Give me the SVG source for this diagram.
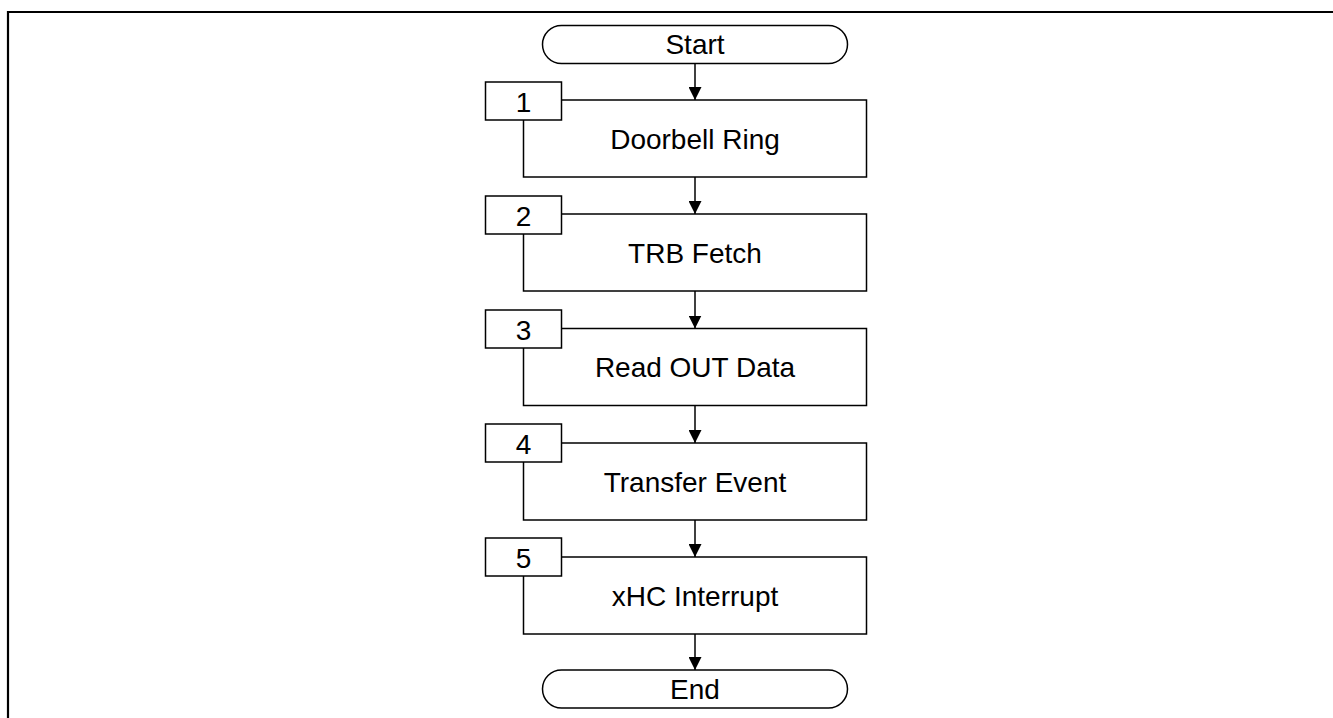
<svg xmlns="http://www.w3.org/2000/svg" width="1333" height="718" viewBox="0 0 1333 718">
<defs>
<marker id="arr" markerUnits="userSpaceOnUse" markerWidth="13" markerHeight="13" refX="13" refY="6.5" orient="auto" viewBox="0 0 13 13">
<path d="M0,0 L13,6.5 L0,13 Z" fill="#000"/>
</marker>
</defs>
<style>
.sh{fill:#fff;stroke:#000;stroke-width:1.5}
.t{font-family:"Liberation Sans",Arial,sans-serif;font-size:28px;fill:#000;text-anchor:middle}
.c{stroke:#000;stroke-width:1.5;fill:none}
</style>
<rect width="1333" height="718" fill="#fff"/>
<path d="M8,718 V12 H1333" fill="none" stroke="#000" stroke-width="2.2"/>
<g id="start"><rect class="sh" x="542.5" y="25.5" width="305" height="38" rx="19"/><text class="t" x="695" y="53.5">Start</text></g>
<g id="step1"><rect class="sh" x="523.5" y="100" width="343" height="77"/><rect class="sh" x="485.5" y="82" width="76" height="38"/><text class="t" x="523.5" y="111.5">1</text><text class="t" x="695" y="148.5">Doorbell Ring</text></g>
<g id="step2"><rect class="sh" x="523.5" y="214" width="343" height="77"/><rect class="sh" x="485.5" y="196" width="76" height="38"/><text class="t" x="523.5" y="225.5">2</text><text class="t" x="695" y="262.5">TRB Fetch</text></g>
<g id="step3"><rect class="sh" x="523.5" y="328.5" width="343" height="77"/><rect class="sh" x="485.5" y="310" width="76" height="38"/><text class="t" x="523.5" y="339.5">3</text><text class="t" x="695" y="377">Read OUT Data</text></g>
<g id="step4"><rect class="sh" x="523.5" y="443" width="343" height="77"/><rect class="sh" x="485.5" y="424" width="76" height="38"/><text class="t" x="523.5" y="453.5">4</text><text class="t" x="695" y="491.5">Transfer Event</text></g>
<g id="step5"><rect class="sh" x="523.5" y="557" width="343" height="77"/><rect class="sh" x="485.5" y="538" width="76" height="38"/><text class="t" x="523.5" y="567.5">5</text><text class="t" x="695" y="605.5">xHC Interrupt</text></g>
<g id="end"><rect class="sh" x="542.5" y="670" width="305" height="38" rx="19"/><text class="t" x="695" y="698.5">End</text></g>
<g id="connectors">
<line class="c" x1="695" y1="64" x2="695" y2="100" marker-end="url(#arr)"/>
<line class="c" x1="695" y1="177" x2="695" y2="214" marker-end="url(#arr)"/>
<line class="c" x1="695" y1="291" x2="695" y2="328.5" marker-end="url(#arr)"/>
<line class="c" x1="695" y1="405.5" x2="695" y2="443" marker-end="url(#arr)"/>
<line class="c" x1="695" y1="520" x2="695" y2="557" marker-end="url(#arr)"/>
<line class="c" x1="695" y1="634" x2="695" y2="670" marker-end="url(#arr)"/>
</g>
</svg>
